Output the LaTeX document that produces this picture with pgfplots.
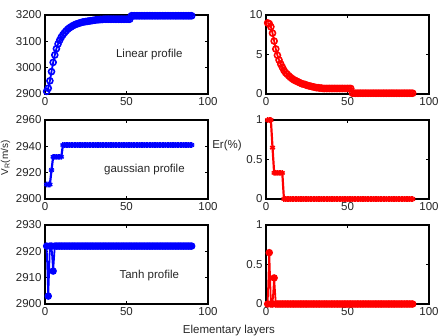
\documentclass[border=0pt]{standalone}
\usepackage{pgfplots}
\usepackage{pgfplotstable}
\pgfplotsset{compat=1.18}
\usepackage{fontspec}
\setmainfont{Liberation Sans}

% Velocity (m/s) and relative error (%) per elementary layer, three profiles
\pgfplotstableread{
x linV linEr gauV gauEr tanV tanEr
1 2910 9.0 2911 1.0 2922 0
2 2922 8.9 2911 1.0 2903 0.65
3 2950 8.5 2911 1.0 2922 0
4 2985 7.7 2922 0.65 2922 0
5 3020 6.7 2932 0.33 2912.5 0.33
6 3048 5.7 2932 0.33 2922 0
7 3072 4.9 2932 0.33 2922 0
8 3090 4.3 2932 0.33 2922 0
9 3104 3.8 2932 0.33 2922 0
10 3116 3.4 2932 0.33 2922 0
11 3125 3.0 2941 0 2922 0
12 3133 2.7 2941 0 2922 0
13 3140 2.5 2941 0 2922 0
14 3146 2.3 2941 0 2922 0
15 3151 2.1 2941 0 2922 0
16 3155 1.95 2941 0 2922 0
17 3159 1.8 2941 0 2922 0
18 3162 1.7 2941 0 2922 0
19 3165 1.6 2941 0 2922 0
20 3167 1.5 2941 0 2922 0
21 3169 1.4 2941 0 2922 0
22 3171 1.3 2941 0 2922 0
23 3173 1.25 2941 0 2922 0
24 3174 1.2 2941 0 2922 0
25 3175 1.1 2941 0 2922 0
26 3176 1.05 2941 0 2922 0
27 3177 1.0 2941 0 2922 0
28 3178 0.95 2941 0 2922 0
29 3179 0.9 2941 0 2922 0
30 3180 0.85 2941 0 2922 0
31 3181 0.8 2941 0 2922 0
32 3182 0.8 2941 0 2922 0
33 3182 0.75 2941 0 2922 0
34 3183 0.75 2941 0 2922 0
35 3183 0.7 2941 0 2922 0
36 3184 0.7 2941 0 2922 0
37 3184 0.7 2941 0 2922 0
38 3184 0.7 2941 0 2922 0
39 3184 0.7 2941 0 2922 0
40 3184 0.7 2941 0 2922 0
41 3184 0.7 2941 0 2922 0
42 3184 0.7 2941 0 2922 0
43 3184 0.7 2941 0 2922 0
44 3184 0.7 2941 0 2922 0
45 3184 0.7 2941 0 2922 0
46 3184 0.7 2941 0 2922 0
47 3184 0.7 2941 0 2922 0
48 3184 0.7 2941 0 2922 0
49 3184 0.7 2941 0 2922 0
50 3184 0.7 2941 0 2922 0
51 3184 0.7 2941 0 2922 0
52 3184 0.7 2941 0 2922 0
53 3197 0.1 2941 0 2922 0
54 3197 0.1 2941 0 2922 0
55 3197 0.1 2941 0 2922 0
56 3197 0.1 2941 0 2922 0
57 3197 0.1 2941 0 2922 0
58 3197 0.1 2941 0 2922 0
59 3197 0.1 2941 0 2922 0
60 3197 0.1 2941 0 2922 0
61 3197 0.1 2941 0 2922 0
62 3197 0.1 2941 0 2922 0
63 3197 0.1 2941 0 2922 0
64 3197 0.1 2941 0 2922 0
65 3197 0.1 2941 0 2922 0
66 3197 0.1 2941 0 2922 0
67 3197 0.1 2941 0 2922 0
68 3197 0.1 2941 0 2922 0
69 3197 0.1 2941 0 2922 0
70 3197 0.1 2941 0 2922 0
71 3197 0.1 2941 0 2922 0
72 3197 0.1 2941 0 2922 0
73 3197 0.1 2941 0 2922 0
74 3197 0.1 2941 0 2922 0
75 3197 0.1 2941 0 2922 0
76 3197 0.1 2941 0 2922 0
77 3197 0.1 2941 0 2922 0
78 3197 0.1 2941 0 2922 0
79 3197 0.1 2941 0 2922 0
80 3197 0.1 2941 0 2922 0
81 3197 0.1 2941 0 2922 0
82 3197 0.1 2941 0 2922 0
83 3197 0.1 2941 0 2922 0
84 3197 0.1 2941 0 2922 0
85 3197 0.1 2941 0 2922 0
86 3197 0.1 2941 0 2922 0
87 3197 0.1 2941 0 2922 0
88 3197 0.1 2941 0 2922 0
89 3197 0.1 2941 0 2922 0
90 3197 0.1 2941 0 2922 0
}\profiles

\tikzset{lbl/.style={font=\fontsize{11.5}{12}\selectfont, text=black!85}}

\pgfplotsset{
  panel/.style={
    scale only axis, width=163pt, height=79pt,
    anchor=south west,
    xmin=0, xmax=100, xtick={0,50,100},
    axis line style={line width=1.1pt, black},
    tick align=inside, major tick length=3pt,
    tick style={black, line width=0.6pt},
    tick label style={font=\fontsize{11.5}{12}\selectfont, text=black!85},
    /pgf/number format/assume math mode=true,
    /pgf/number format/1000 sep={},
    scaled ticks=false,
    clip=false,
  },
  vel/.style={blue, line width=1.8pt},
  err/.style={red, line width=1.8pt},
}

\begin{document}
\begin{tikzpicture}
\useasboundingbox (0pt,0pt) rectangle (444pt,336pt);

% Linear profile
\begin{axis}[panel, at={(45pt,242pt)}, ymin=2900, ymax=3200, ytick={2900,3000,3100,3200}]
\addplot[vel, mark=o, mark size=3pt, mark options={line width=1.6pt}] table[x=x,y=linV]{\profiles};
\node[lbl] at (axis cs:64,3048) {Linear profile};
\end{axis}
\begin{axis}[panel, at={(266pt,242pt)}, ymin=0, ymax=10, ytick={0,5,10}]
\addplot[err, mark=o, mark size=3pt, mark options={line width=1.6pt}] table[x=x,y=linEr]{\profiles};
\end{axis}

% Gaussian profile
\begin{axis}[panel, at={(45pt,137pt)}, ymin=2900, ymax=2960, ytick={2900,2920,2940,2960}]
\addplot[vel, line width=2.2pt, mark=asterisk, mark size=2.8pt, mark options={line width=1.5pt}] table[x=x,y=gauV]{\profiles};
\node[lbl] at (axis cs:61,2922) {gaussian profile};
\end{axis}
\begin{axis}[panel, at={(266pt,137pt)}, ymin=0, ymax=1, ytick={0,0.5,1}]
\addplot[err, line width=2.2pt, mark=asterisk, mark size=2.8pt, mark options={line width=1.5pt}] table[x=x,y=gauEr]{\profiles};
\end{axis}

% Tanh profile
\begin{axis}[panel, at={(45pt,32pt)}, ymin=2900, ymax=2930, ytick={2900,2910,2920,2930}]
\addplot[vel, mark=*, mark size=2.8pt] table[x=x,y=tanV]{\profiles};
\node[lbl] at (axis cs:64,2910.7) {Tanh profile};
\end{axis}
\begin{axis}[panel, at={(266pt,32pt)}, ymin=0, ymax=1, ytick={0,0.5,1}]
\addplot[err, mark=*, mark size=2.8pt] table[x=x,y=tanEr]{\profiles};
\end{axis}

% Shared axis titles
\node[font=\fontsize{10}{11}\selectfont, text=black!85, rotate=90, anchor=south, inner sep=0pt] at (10.5pt,178pt) {V\textsubscript{R}(m/s)};
\node[lbl] at (227pt,190pt) {Er(\%)};
\node[lbl, anchor=base] at (229pt,2pt) {Elementary layers};
\end{tikzpicture}
\end{document}
